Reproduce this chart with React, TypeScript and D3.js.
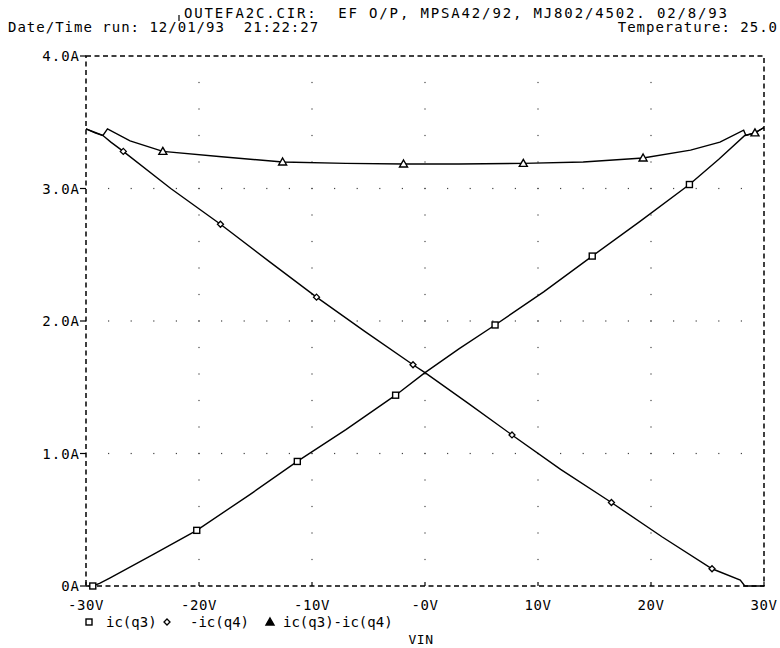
import React from "react";
import * as d3 from "d3";

const titleLine1 = "OUTEFA2C.CIR:  EF O/P, MPSA42/92, MJ802/4502. 02/8/93";
const titleLine2 = "Date/Time run: 12/01/93  21:22:27";
const titleRight = "Temperature: 25.0";
const xLabel = "VIN";

const xTicks = [-30, -20, -10, 0, 10, 20, 30];
const xTickLabels = ["-30V", "-20V", "-10V", "-0V", "10V", "20V", "30V"];
const yTicks = [0, 1, 2, 3, 4];
const yTickLabels = ["0A", "1.0A", "2.0A", "3.0A", "4.0A"];

const icQ3: [number, number][] = [
  [-30, 0], [-29.4, 0], [-28.8, 0.02], [-27.9, 0.06], [-24, 0.24], [-20.2, 0.42],
  [-15.5, 0.69], [-11.3, 0.94], [-7, 1.18], [-2.6, 1.44], [0, 1.61], [3, 1.79],
  [6.2, 1.97], [10.5, 2.22], [14.8, 2.49], [19, 2.75], [23.4, 3.03], [26, 3.22],
  [28.3, 3.4], [29.2, 3.42], [30, 3.46],
];
const icQ3Markers: [number, number][] = [
  [-29.4, 0], [-20.2, 0.42], [-11.3, 0.94], [-2.6, 1.44], [6.2, 1.97], [14.8, 2.49], [23.4, 3.03],
];

const negIcQ4: [number, number][] = [
  [-30, 3.45], [-29.2, 3.42], [-28.5, 3.4], [-27.8, 3.35], [-26.7, 3.28], [-22.5, 3.0],
  [-18.1, 2.73], [-13.8, 2.45], [-9.6, 2.18], [-5.3, 1.92], [-1.06, 1.67], [0, 1.61],
  [3.8, 1.38], [7.7, 1.14], [12, 0.88], [16.5, 0.63], [21, 0.37], [25.4, 0.13],
  [27.9, 0.045], [28.3, 0], [30, 0],
];
const negIcQ4Markers: [number, number][] = [
  [-26.7, 3.28], [-18.1, 2.73], [-9.6, 2.18], [-1.06, 1.67], [7.7, 1.14], [16.5, 0.63], [25.4, 0.13],
];

const diff: [number, number][] = [
  [-30, 3.45], [-28.5, 3.4], [-28.1, 3.45], [-26.1, 3.36], [-23.2, 3.28], [-18, 3.24],
  [-12.6, 3.2], [-7, 3.19], [-1.9, 3.185], [3, 3.185], [8.7, 3.19], [14, 3.2],
  [19.3, 3.23], [23.5, 3.29], [26.1, 3.35], [28.2, 3.44], [28.4, 3.4], [29.2, 3.42], [30, 3.46],
];
const diffMarkers: [number, number][] = [
  [-23.2, 3.28], [-12.6, 3.2], [-1.9, 3.185], [8.7, 3.19], [19.3, 3.23], [29.2, 3.42],
];

const legendItems = ["ic(q3)", "-ic(q4)", "ic(q3)-ic(q4)"];

const W = 780;
const H = 648;
const left = 86, right = 764, top = 56, bottom = 586;
const FONT = "'DejaVu Sans Mono', 'Liberation Mono', monospace";
const pre = { whiteSpace: "pre" as const };

function Marker({ kind, x, y, filled }: { kind: string; x: number; y: number; filled?: boolean }) {
  const s = 3;
  if (kind === "square")
    return <rect x={x - s} y={y - s} width={2 * s} height={2 * s} fill="white" stroke="black" strokeWidth={1.4} />;
  if (kind === "diamond")
    return (
      <path d={`M${x},${y - s}L${x + s},${y}L${x},${y + s}L${x - s},${y}Z`} fill="white" stroke="black" strokeWidth={1.3} />
    );
  return (
    <path
      d={`M${x},${y - 4}L${x + 4},${y + 3}L${x - 4},${y + 3}Z`}
      fill={filled ? "black" : "white"}
      stroke="black"
      strokeWidth={1.4}
    />
  );
}

export default function App() {
  const x = d3.scaleLinear().domain([-30, 30]).range([left, right]);
  const y = d3.scaleLinear().domain([0, 4]).range([bottom, top]);
  const line = d3
    .line<[number, number]>()
    .x((d) => x(d[0]))
    .y((d) => y(d[1]));

  const gridDots: { cx: number; cy: number }[] = [];
  xTicks.slice(1, -1).forEach((v) => {
    d3.range(0.2, 4, 0.2).forEach((a) => gridDots.push({ cx: x(v), cy: y(a) }));
  });
  yTicks.slice(1, -1).forEach((a) => {
    d3.range(-28, 30, 2).forEach((v) => gridDots.push({ cx: x(v), cy: y(a) }));
  });

  const series = [
    { data: icQ3, markers: icQ3Markers, kind: "square" },
    { data: negIcQ4, markers: negIcQ4Markers, kind: "diamond" },
    { data: diff, markers: diffMarkers, kind: "triangle" },
  ];

  const legendX = [89, 167, 270];
  const legendTextX = [106, 190, 283];

  return (
    <div style={{ position: "absolute", left: 0, top: 0 }}>
      <svg width={W} height={H} style={{ display: "block", background: "white" }} fontFamily={FONT}>
        <rect width={W} height={H} fill="white" />
        <line x1={179} x2={179} y1={15} y2={21} stroke="black" strokeWidth={1.2} />
        <text x={184} y={18} fontSize={14} textLength={543} lengthAdjust="spacing" fill="black" style={pre}>
          {titleLine1}
        </text>
        <text x={8} y={32} fontSize={14} letterSpacing={1} fill="black" style={pre}>
          {titleLine2}
        </text>
        <text x={778} y={32} fontSize={14} letterSpacing={1} textAnchor="end" fill="black" style={pre}>
          {titleRight}
        </text>

        {gridDots.map((d, i) => (
          <rect key={i} x={d.cx - 0.6} y={d.cy - 0.6} width={1.2} height={1.2} fill="#444" />
        ))}

        <rect
          x={left}
          y={top}
          width={right - left}
          height={bottom - top}
          fill="none"
          stroke="black"
          strokeWidth={1.5}
          strokeDasharray="5,3.5"
        />

        {yTicks.map((t, i) => (
          <g key={"y" + t}>
            <line x1={left - 6} x2={left} y1={y(t)} y2={y(t)} stroke="black" strokeWidth={1.2} />
            <text x={left - 6} y={y(t) + 5} fontSize={14} letterSpacing={1} textAnchor="end" fill="black">
              {yTickLabels[i]}
            </text>
          </g>
        ))}
        {xTicks.map((t, i) => (
          <g key={"x" + t}>
            <line x1={x(t)} x2={x(t)} y1={bottom} y2={bottom - 4} stroke="black" strokeWidth={1.2} />
            <text x={x(t)} y={610} fontSize={14} letterSpacing={0.6} textAnchor="middle" fill="black">
              {xTickLabels[i]}
            </text>
          </g>
        ))}

        {series.map((s, i) => (
          <g key={"s" + i}>
            <path d={line(s.data) || ""} fill="none" stroke="black" strokeWidth={1.4} />
            {s.markers.map((m, j) => (
              <Marker key={j} kind={s.kind} x={x(m[0])} y={y(m[1])} />
            ))}
          </g>
        ))}

        {legendItems.map((label, i) => (
          <g key={"l" + i}>
            <Marker kind={series[i].kind} x={legendX[i]} y={622} filled />
            <text x={legendTextX[i]} y={627} fontSize={14} fill="black">
              {label}
            </text>
          </g>
        ))}
        <text x={421} y={644} fontSize={13} letterSpacing={0.5} textAnchor="middle" fill="black">
          {xLabel}
        </text>
      </svg>
    </div>
  );
}
